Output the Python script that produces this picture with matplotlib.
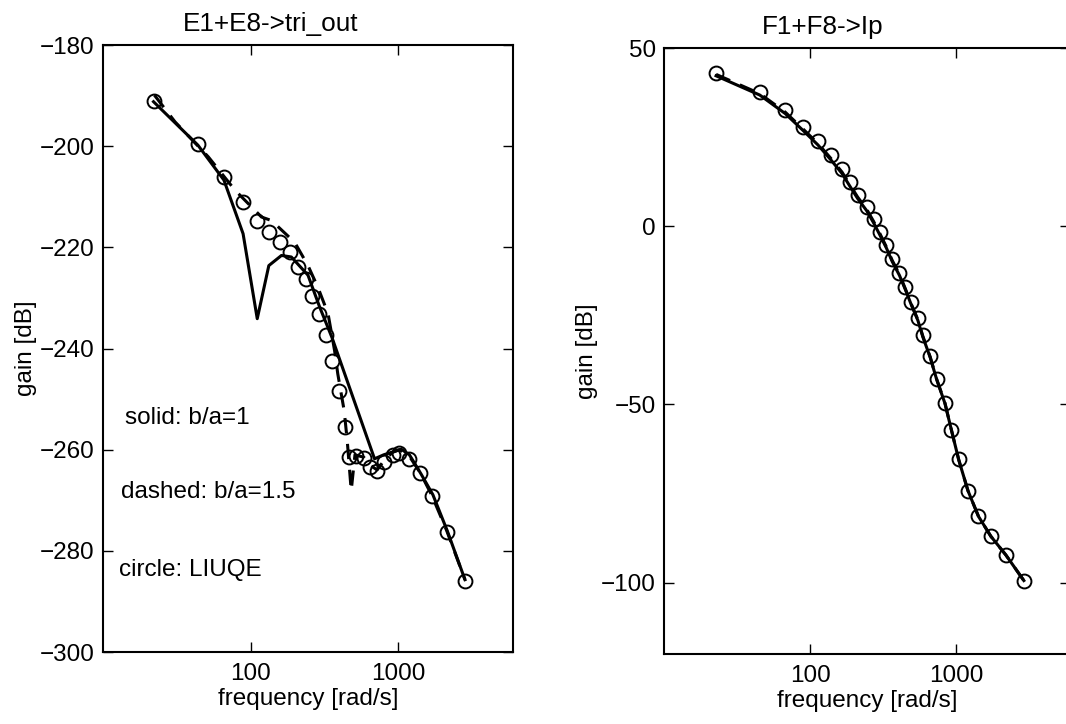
import matplotlib.pyplot as plt
import numpy as np

plt.rcParams['font.family'] = ['Liberation Sans', 'DejaVu Sans']
plt.rcParams['font.size'] = 17.5

# E1+E8 -> tri_out : LIUQE circles
e_circ_f = [22, 44, 66, 89, 111, 134, 158, 184, 210, 236, 261, 291, 323,
            356, 398, 434, 464, 520, 586, 640, 721, 808, 920, 1020, 1192,
            1415, 1690, 2134, 2838]
e_circ_g = [-191, -199.5, -206, -211, -214.7, -217, -219, -221, -223.8,
            -226.3, -229.7, -233.1, -237.4, -242.4, -248.3, -255.6, -261.4,
            -261.2, -261.7, -263.5, -264.3, -262.5, -261, -260.7, -261.8,
            -264.7, -269.2, -276.2, -285.9]
# solid: b/a=1
e_sol_f = [22, 44, 66, 89, 111, 133, 162, 189, 245, 294, 356, 692, 800,
           1050, 1192, 1430, 1720, 2150, 2838]
e_sol_g = [-191.2, -199.8, -206.7, -217.3, -234.1, -223.6, -221.6, -221.9,
           -225.5, -231.8, -237.8, -261.8, -261, -259.9, -261, -264.8,
           -268.9, -276, -285.7]
# dashed: b/a=1.5
e_das_f = [22.3, 30.8, 51.7, 78.5, 118.6, 138.7, 199, 245, 286, 335, 371,
           390, 431, 452, 481, 510, 586, 640, 721, 808, 920, 1020, 1192,
           1415, 1690, 2134, 2838]
e_das_g = [-189.9, -195.2, -202.1, -208.7, -214, -214.7, -219, -223.6,
           -227.9, -233.1, -240.4, -245, -252.3, -258.2, -268.1, -261,
           -261.5, -263, -264, -262, -260.5, -260, -261.3, -264.6, -269,
           -276, -285.7]

# F1+F8 -> Ip
f_circ_f = [22.7, 45.2, 67.5, 89.7, 113, 138, 165, 187, 211, 243, 271, 300,
            332, 364, 408, 448, 491, 545, 589, 662, 733, 835, 925, 1037,
            1200, 1416, 1722, 2177, 2893]
f_circ_g = [43.1, 37.7, 32.6, 27.9, 24.0, 19.9, 16.0, 12.3, 8.9, 5.4, 1.9,
            -1.6, -5.3, -9.1, -13.0, -17.1, -21.3, -25.8, -30.6, -36.5,
            -42.8, -49.5, -57.1, -65.4, -74.2, -81.4, -87.0, -92.2, -99.4]
f_sol_g = [42.2, 36.8, 31.6, 26.8, 22.8, 18.7, 14.8, 11.2, 7.8, 4.4, 1.0,
           -2.5, -6.1, -9.9, -13.8, -17.8, -22.0, -26.4, -31.0, -36.8,
           -43.0, -49.7, -57.2, -65.5, -74.2, -81.4, -87.0, -92.2, -99.4]
f_das_g = [42.6, 37.2, 32.0, 27.2, 23.2, 19.1, 15.2, 11.6, 8.2, 4.8, 1.4,
           -2.1, -5.8, -9.6, -13.5, -17.6, -21.8, -26.2, -30.8, -36.7,
           -42.9, -49.6, -57.2, -65.5, -74.2, -81.4, -87.0, -92.2, -99.4]

fig = plt.figure(figsize=(10.66, 7.24), dpi=100)
ax1 = fig.add_axes([0.0966, 0.0994, 0.3846, 0.8384])
ax2 = fig.add_axes([0.6229, 0.0967, 0.381, 0.837])

for ax in (ax1, ax2):
    ax.set_xscale('log')
    ax.set_xlim(10, 6000)
    ax.set_xticks([100, 1000])
    ax.set_xticklabels(['100', '1000'])
    ax.minorticks_off()
    ax.tick_params(direction='in', length=7, width=1, top=True, right=True)
    ax.tick_params(axis='x', pad=8)
    ax.tick_params(axis='y', pad=6)
    for s in ax.spines.values():
        s.set_linewidth(1.5)
    ax.set_xlabel('frequency [rad/s]', labelpad=2)
    ax.set_ylabel('gain [dB]', labelpad=2)

ax1.plot(e_sol_f, e_sol_g, 'k-', lw=2.2)
ax1.plot(e_das_f, e_das_g, 'k--', lw=2.2, dashes=(5, 3.5))
ax1.plot(e_circ_f, e_circ_g, 'o', ms=10, mfc='none', mec='k', mew=1.4)
ax1.set_ylim(-300, -180)
ax1.set_yticks(np.arange(-300, -179, 20))
ax1.set_title('E1+E8->tri_out', x=0.41, pad=10, fontsize=18.8)
ax1.text(14, -255, 'solid: b/a=1')
ax1.text(13.2, -269.5, 'dashed: b/a=1.5')
ax1.text(12.8, -285, 'circle: LIUQE')

ax2.plot(f_circ_f, f_sol_g, 'k-', lw=2.2)
ax2.plot(f_circ_f, f_das_g, 'k--', lw=2.2, dashes=(5, 3.5))
ax2.plot(f_circ_f, f_circ_g, 'o', ms=10, mfc='none', mec='k', mew=1.4)
ax2.set_ylim(-120, 50)
ax2.set_yticks([-100, -50, 0, 50])
ax2.set_title('F1+F8->Ip', x=0.39, pad=10, fontsize=18.8)

plt.savefig('out.png', dpi=100)
